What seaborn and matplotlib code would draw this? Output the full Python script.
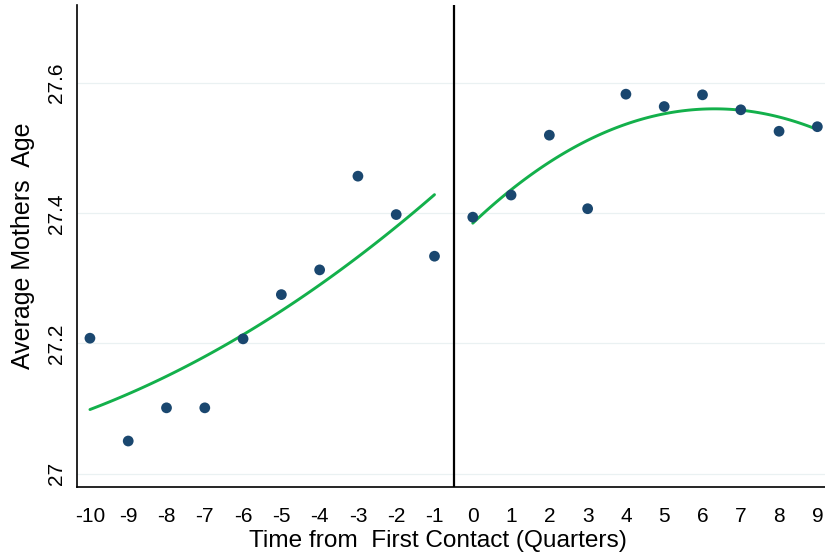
import matplotlib
matplotlib.use("Agg")
import matplotlib.pyplot as plt
import seaborn as sns
import numpy as np
import pandas as pd

# Quarters relative to first contact and average mother's age in each quarter
quarters_pre = [-10, -9, -8, -7, -6, -5, -4, -3, -2, -1]
age_pre = [27.208, 27.050, 27.101, 27.101, 27.207, 27.275, 27.313, 27.457, 27.398, 27.334]
quarters_post = [0, 1, 2, 3, 4, 5, 6, 7, 8, 9]
age_post = [27.394, 27.428, 27.520, 27.407, 27.583, 27.564, 27.582, 27.559, 27.526, 27.533]

x_ticks = list(range(-10, 10))
y_ticks = [27.0, 27.2, 27.4, 27.6]
y_tick_labels = ["27", "27.2", "27.4", "27.6"]

pre = pd.DataFrame({"quarter": quarters_pre, "age": age_pre})
post = pd.DataFrame({"quarter": quarters_post, "age": age_post})

sns.set_style("white")
plt.rcParams["font.family"] = ["Liberation Sans", "DejaVu Sans"]

fig = plt.figure(figsize=(8.25, 5.58), dpi=100)
ax = fig.add_axes([0.0937, 0.128, 0.9063, 0.863])

dot_color = "#1a476f"
fit_color = "#13b04b"

# scatter of quarterly means with a quadratic fit on each side of first contact
for df in (pre, post):
    sns.regplot(data=df, x="quarter", y="age", order=2, ci=None, ax=ax,
                scatter_kws=dict(s=60, color=dot_color, edgecolor="none",
                                 alpha=1, zorder=3),
                line_kws=dict(color=fit_color, lw=2.1, zorder=2))

ax.axvline(-0.5, color="black", lw=1.6, zorder=4)

ax.set_xlim(-10.33, 9.2)
ax.set_ylim(26.98, 27.72)
ax.set_xticks(x_ticks)
ax.set_xticklabels([str(t) for t in x_ticks])
ax.set_yticks(y_ticks)
ax.set_yticklabels(y_tick_labels, rotation=90, va="center")

ax.grid(axis="y", color="#eaf1f2", lw=0.9)
ax.grid(axis="x", visible=False)
ax.set_axisbelow(True)

for side in ("top", "right"):
    ax.spines[side].set_visible(False)
for side in ("left", "bottom"):
    ax.spines[side].set_color("black")
    ax.spines[side].set_linewidth(1.2)

ax.tick_params(axis="both", which="major", direction="out", length=6, width=1,
               color="#333333", labelsize=15, labelcolor="black")
ax.tick_params(axis="x", pad=8.5)
ax.tick_params(axis="y", pad=2)

ax.set_xlabel("Time from  First Contact (Quarters)", fontsize=17.6, color="black")
ax.set_ylabel("Average Mothers  Age", fontsize=18, color="black")
ax.xaxis.set_label_coords(0.4817, -0.09)
ax.yaxis.set_label_coords(-0.057, 0.5)

fig.savefig("out.png", dpi=100)
